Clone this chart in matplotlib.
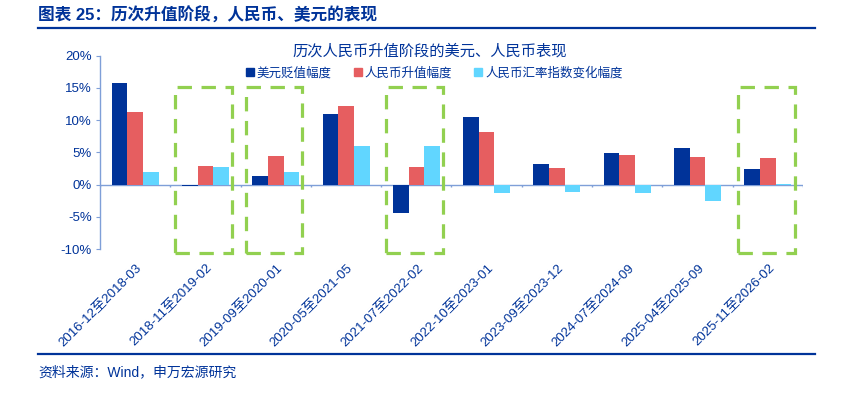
import numpy as np
import matplotlib
matplotlib.use("Agg")
from matplotlib import pyplot as plt
from matplotlib.patches import Rectangle
from matplotlib.lines import Line2D

plt.rcParams['font.family'] = ['Liberation Sans', 'Noto Sans CJK SC', 'DejaVu Sans']
plt.rcParams['axes.unicode_minus'] = False

# data (%)
periods = ['2016-12至2018-03', '2018-11至2019-02', '2019-09至2020-01',
           '2020-05至2021-05', '2021-07至2022-02', '2022-10至2023-01',
           '2023-09至2023-12', '2024-07至2024-09', '2025-04至2025-09',
           '2025-11至2026-02']
usd_drop = [15.7, -0.3, 1.4, 10.9, -4.45, 10.5, 3.25, 4.9, 5.75, 2.4]
cny_up = [11.2, 2.95, 4.5, 12.2, 2.8, 8.2, 2.55, 4.6, 4.35, 4.2]
cny_index = [2.0, 2.75, 2.0, 6.05, 5.95, -1.3, -1.15, -1.35, -2.55, 0.05]
series_names = ['美元贬值幅度', '人民币升值幅度', '人民币汇率指数变化幅度']
highlight = [1, 2, 4, 9]

NAVY = '#003399'
RED = '#E65E60'
CYAN = '#61D6FF'
GREEN = '#92D050'
AXC = '#7F9FD8'


def main():
    fig = plt.figure(figsize=(8.68, 3.93), dpi=100)
    ax = fig.add_axes([0.1152, 0.3664, 0.8099, 0.4919])

    x = np.arange(len(periods))
    w = 0.223
    colors = [NAVY, RED, CYAN]
    for k, vals in enumerate([usd_drop, cny_up, cny_index]):
        ax.bar(x + (k - 1) * w, vals, width=w, color=colors[k], zorder=2)

    ax.set_xlim(-0.5, len(periods) - 0.5)
    ax.set_ylim(-10, 20)
    ax.set_yticks(np.arange(-10, 21, 5))
    ax.set_yticklabels(['%d%%' % v for v in range(-10, 21, 5)])

    for s in ['top', 'right', 'bottom']:
        ax.spines[s].set_visible(False)
    ax.spines['left'].set_color(AXC)
    ax.spines['left'].set_linewidth(1.0)
    ax.tick_params(axis='y', colors=AXC, length=3, labelcolor=NAVY, labelsize=9.5, pad=3)

    # zero line with category boundary ticks
    ax.axhline(0, color=AXC, lw=1.0, zorder=1.5)
    ax.vlines(np.arange(len(periods) + 1) - 0.5, -0.45, 0, color=AXC, lw=1.0, zorder=1.5)

    ax.set_xticks(x)
    ax.set_xticklabels(periods, rotation=45, ha='right', va='top',
                       rotation_mode='anchor', color=NAVY, fontsize=9.5)
    ax.tick_params(axis='x', length=0, pad=9)

    # dashed highlight boxes
    for i in highlight:
        r = Rectangle((i - 0.43, -10.6), 0.81, 25.7, fill=False, ec=GREEN,
                      lw=2.3, ls=(0, (4.5, 3)), clip_on=False, zorder=3)
        ax.add_patch(r)

    fig.text(430 / 868, 1 - 51 / 393, '历次人民币升值阶段的美元、人民币表现',
             ha='center', va='center', color=NAVY, fontsize=11)

    handles = [Line2D([], [], marker='s', ls='', color=c, markersize=6) for c in colors]
    fig.legend(handles, series_names, loc='center', bbox_to_anchor=(433 / 868, 1 - 73 / 393),
               ncol=3, frameon=False, fontsize=9, handletextpad=0.05, columnspacing=1.6,
               handlelength=1.0, labelcolor=NAVY, borderpad=0)

    # header and footer
    fig.text(38 / 868, 1 - 15 / 393, '图表 25：历次升值阶段，人民币、美元的表现',
             ha='left', va='center', color=NAVY, fontsize=12, fontweight='bold')
    fig.add_artist(Line2D([38 / 868, 815 / 868], [1 - 28 / 393] * 2, color=NAVY, lw=1.6))
    fig.add_artist(Line2D([38 / 868, 815 / 868], [1 - 354 / 393] * 2, color=NAVY, lw=1.6))
    fig.text(38 / 868, 1 - 372 / 393, '资料来源：Wind，申万宏源研究',
             ha='left', va='center', color=NAVY, fontsize=10)

    fig.savefig('out.png', dpi=100)


if __name__ == '__main__':
    main()
